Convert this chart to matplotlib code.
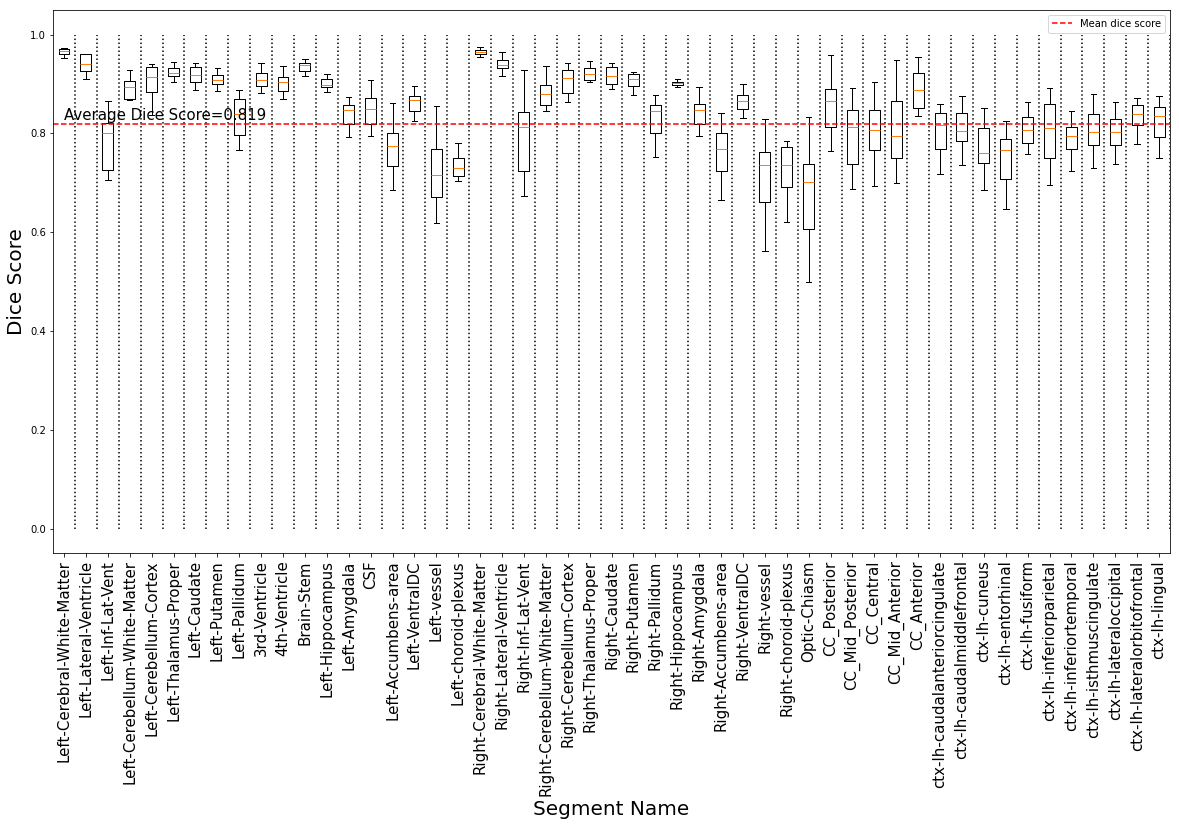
"""
Dice score per segment, one box per segment with the mean as a dashed line.
"""

import matplotlib

matplotlib.use("Agg")
import matplotlib.pyplot as plt

MEAN_DICE = 0.819

segments = [
    "Left-Cerebral-White-Matter", "Left-Lateral-Ventricle", "Left-Inf-Lat-Vent",
    "Left-Cerebellum-White-Matter", "Left-Cerebellum-Cortex", "Left-Thalamus-Proper",
    "Left-Caudate", "Left-Putamen", "Left-Pallidum", "3rd-Ventricle", "4th-Ventricle",
    "Brain-Stem", "Left-Hippocampus", "Left-Amygdala", "CSF", "Left-Accumbens-area",
    "Left-VentralDC", "Left-vessel", "Left-choroid-plexus", "Right-Cerebral-White-Matter",
    "Right-Lateral-Ventricle", "Right-Inf-Lat-Vent", "Right-Cerebellum-White-Matter",
    "Right-Cerebellum-Cortex", "Right-Thalamus-Proper", "Right-Caudate", "Right-Putamen",
    "Right-Pallidum", "Right-Hippocampus", "Right-Amygdala", "Right-Accumbens-area",
    "Right-VentralDC", "Right-vessel", "Right-choroid-plexus", "Optic-Chiasm",
    "CC_Posterior", "CC_Mid_Posterior", "CC_Central", "CC_Mid_Anterior", "CC_Anterior",
    "ctx-lh-caudalanteriorcingulate", "ctx-lh-caudalmiddlefrontal", "ctx-lh-cuneus",
    "ctx-lh-entorhinal", "ctx-lh-fusiform", "ctx-lh-inferiorparietal",
    "ctx-lh-inferiortemporal", "ctx-lh-isthmuscingulate", "ctx-lh-lateraloccipital",
    "ctx-lh-lateralorbitofrontal", "ctx-lh-lingual",
]

# box statistics
whisker_low = [
    0.953, 0.910, 0.706, 0.868, 0.838, 0.904, 0.888, 0.886, 0.767, 0.882, 0.870,
    0.916, 0.884, 0.793, 0.795, 0.686, 0.825, 0.619, 0.704, 0.955, 0.916, 0.673,
    0.845, 0.864, 0.904, 0.890, 0.878, 0.752, 0.894, 0.795, 0.665, 0.831, 0.562,
    0.621, 0.499, 0.765, 0.688, 0.694, 0.700, 0.835, 0.718, 0.736, 0.686, 0.647,
    0.758, 0.696, 0.724, 0.730, 0.738, 0.779, 0.750,
]
q1 = [
    0.961, 0.926, 0.726, 0.870, 0.884, 0.916, 0.904, 0.900, 0.797, 0.896, 0.886,
    0.926, 0.894, 0.819, 0.820, 0.734, 0.845, 0.671, 0.714, 0.961, 0.933, 0.724,
    0.858, 0.882, 0.908, 0.900, 0.896, 0.801, 0.898, 0.819, 0.724, 0.850, 0.661,
    0.692, 0.607, 0.813, 0.738, 0.767, 0.750, 0.852, 0.769, 0.785, 0.740, 0.708,
    0.781, 0.750, 0.769, 0.777, 0.777, 0.817, 0.793,
]
medians = [
    0.966, 0.941, 0.801, 0.894, 0.914, 0.922, 0.918, 0.908, 0.839, 0.908, 0.904,
    0.939, 0.898, 0.847, 0.850, 0.775, 0.868, 0.716, 0.730, 0.965, 0.939, 0.813,
    0.880, 0.912, 0.920, 0.916, 0.910, 0.845, 0.902, 0.848, 0.769, 0.866, 0.736,
    0.736, 0.702, 0.866, 0.813, 0.807, 0.795, 0.888, 0.817, 0.805, 0.760, 0.767,
    0.807, 0.811, 0.795, 0.803, 0.803, 0.839, 0.835,
]
q3 = [
    0.970, 0.960, 0.821, 0.906, 0.935, 0.933, 0.935, 0.918, 0.870, 0.922, 0.914,
    0.943, 0.910, 0.858, 0.872, 0.801, 0.876, 0.769, 0.750, 0.969, 0.949, 0.843,
    0.898, 0.928, 0.933, 0.935, 0.920, 0.858, 0.904, 0.860, 0.801, 0.878, 0.762,
    0.773, 0.738, 0.890, 0.848, 0.848, 0.866, 0.922, 0.841, 0.841, 0.811, 0.789,
    0.833, 0.860, 0.813, 0.839, 0.829, 0.858, 0.854,
]
whisker_high = [
    0.973, 0.961, 0.866, 0.928, 0.941, 0.945, 0.943, 0.933, 0.888, 0.943, 0.937,
    0.951, 0.920, 0.874, 0.908, 0.862, 0.896, 0.856, 0.781, 0.975, 0.965, 0.928,
    0.937, 0.943, 0.947, 0.943, 0.924, 0.878, 0.910, 0.894, 0.841, 0.900, 0.829,
    0.785, 0.833, 0.959, 0.892, 0.904, 0.949, 0.955, 0.860, 0.876, 0.852, 0.825,
    0.864, 0.892, 0.845, 0.880, 0.864, 0.872, 0.876,
]


def main() -> None:
    stats = [
        {"whislo": lo, "q1": a, "med": m, "q3": b, "whishi": hi, "fliers": []}
        for lo, a, m, b, hi in zip(whisker_low, q1, medians, q3, whisker_high)
    ]
    n = len(segments)
    positions = list(range(1, n + 1))

    fig = plt.figure(figsize=(1179 / 72, 827 / 72), dpi=72)
    ax = fig.add_subplot(111)
    fig.subplots_adjust(left=0.045, right=0.9924, top=0.988, bottom=0.331)

    # separators between segments
    ax.vlines([p + 0.5 for p in positions], 0, 1, colors="k", linestyles=":", linewidth=1.5)

    ax.bxp(stats, positions=positions, widths=0.5)
    ax.axhline(MEAN_DICE, color="red", linestyle="--", label="Mean dice score")
    ax.text(1, 0.828, "Average Dice Score=%.3f" % MEAN_DICE, fontsize=15)

    ax.set_xlim(0.5, n + 0.5)
    ax.set_xticks(positions)
    ax.set_xticklabels(segments, rotation=90, fontsize=15)
    ax.set_xlabel("Segment Name", fontsize=20)
    ax.set_ylabel("Dice Score", fontsize=20)
    ax.legend(loc="upper right")

    fig.savefig("out.png", dpi=72)


if __name__ == "__main__":
    main()
